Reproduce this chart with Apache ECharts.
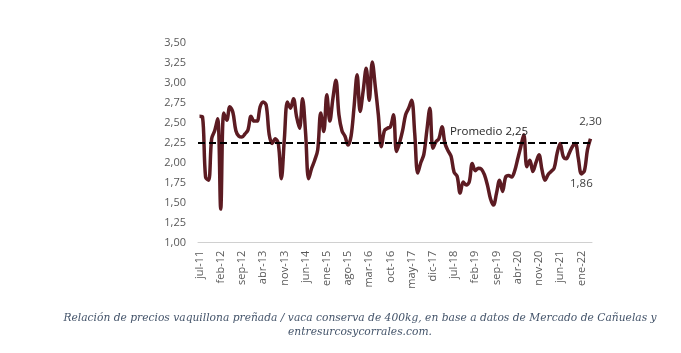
<!DOCTYPE html>
<html>
<head>
<meta charset="utf-8">
<script src="https://cdn.jsdelivr.net/npm/echarts@6/dist/echarts.min.js"></script>
<style>
html,body{margin:0;padding:0;background:#fff;}
#c{width:681px;height:353px;}
</style>
</head>
<body>
<div id="c"></div>
<script>
// Month names and range (jul-11 .. abr-22)
var monthNames = ['ene','feb','mar','abr','may','jun','jul','ago','sep','oct','nov','dic'];
var startYear = 2011, startMonth = 6, monthCount = 130;

// Ratio values, one per month
var ratio = [
 2.58,2.57,1.82,1.78,2.30,2.40,2.55,1.42,2.62,2.53,
 2.70,2.63,2.40,2.33,2.32,2.36,2.41,2.58,2.52,2.52,
 2.70,2.76,2.72,2.35,2.24,2.30,2.24,1.80,2.30,2.76,
 2.68,2.80,2.58,2.43,2.80,2.37,1.80,1.93,2.03,2.16,
 2.62,2.39,2.85,2.52,2.80,3.03,2.60,2.40,2.33,2.22,
 2.33,2.70,3.10,2.64,2.90,3.18,2.78,3.26,2.95,2.60,
 2.20,2.40,2.43,2.45,2.60,2.14,2.25,2.40,2.60,2.68,
 2.78,2.37,1.87,2.00,2.10,2.40,2.68,2.18,2.26,2.30,
 2.45,2.24,2.15,2.08,1.88,1.83,1.62,1.76,1.72,1.76,
 1.99,1.90,1.93,1.92,1.85,1.72,1.55,1.47,1.62,1.78,
 1.64,1.82,1.84,1.82,1.90,2.05,2.20,2.35,1.95,2.03,
 1.89,2.00,2.10,1.91,1.78,1.85,1.89,1.93,2.12,2.24,
 2.08,2.05,2.12,2.20,2.24,2.05,1.86,1.90,2.16,2.30
];
var average = 2.25;
var averageLabel = 'Promedio 2,25';
var captionLine1 = 'Relación de precios vaquillona preñada / vaca conserva de 400kg, en base a datos de Mercado de Cañuelas y';
var captionLine2 = 'entresurcosycorrales.com.';

var categories = [];
for (var i = 0; i < monthCount; i++) {
  var m = (startMonth + i) % 12;
  var y = startYear + Math.floor((startMonth + i) / 12);
  categories.push(monthNames[m] + '-' + String(y).slice(2));
}

function fmt(v){ return v.toFixed(2).replace('.', ','); }

var minIdx = 126, lastIdx = ratio.length - 1;

var chart = echarts.init(document.getElementById('c'), null, {renderer: 'canvas'});
chart.setOption({
  animation: false,
  backgroundColor: '#ffffff',
  graphic: [{
    type: 'text',
    x: 360,
    y: 311,
    silent: true,
    style: {
      text: captionLine1 + '\n' + captionLine2,
      align: 'center',
      verticalAlign: 'top',
      fontFamily: 'DejaVu Serif',
      fontStyle: 'italic',
      fontSize: 10.7,
      lineHeight: 14,
      fill: '#44546a'
    }
  }],
  grid: {left: 198, right: 89, top: 42.7, bottom: 110.3, containLabel: false},
  xAxis: {
    type: 'category',
    data: categories,
    boundaryGap: true,
    axisLine: {show: true, lineStyle: {color: '#d0d0d0', width: 1}},
    axisTick: {show: false},
    axisLabel: {
      interval: 6,
      rotate: 90,
      color: '#595959',
      fontFamily: 'Open Sans',
      fontSize: 11,
      margin: 8
    }
  },
  yAxis: {
    type: 'value',
    min: 1.0, max: 3.5, interval: 0.25,
    axisLine: {show: false},
    axisTick: {show: false},
    splitLine: {show: false},
    axisLabel: {
      color: '#595959',
      fontFamily: 'Open Sans',
      fontSize: 11,
      margin: 12,
      formatter: function(v){ return fmt(v); }
    }
  },
  series: [{
    type: 'line',
    data: ratio,
    smooth: 0.35,
    symbol: 'none',
    lineStyle: {color: '#5c1b22', width: 3.5},
    markLine: {
      silent: true,
      symbol: 'none',
      lineStyle: {color: '#000', type: [7, 4], width: 2.2},
      label: {
        show: true,
        position: 'insideMiddleTop',
        offset: [94, 0],
        formatter: averageLabel,
        color: '#262626',
        fontFamily: 'Open Sans',
        fontSize: 11.5
      },
      data: [{yAxis: average}]
    },
    markPoint: {
      silent: true,
      symbol: 'circle',
      symbolSize: 1,
      itemStyle: {color: 'rgba(0,0,0,0)'},
      label: {
        show: true,
        color: '#404040',
        fontFamily: 'Open Sans',
        fontSize: 11.5,
        formatter: function(p){ return fmt(p.value); }
      },
      data: [
        {coord: [lastIdx, ratio[lastIdx]], value: ratio[lastIdx], label: {position: 'top', distance: 10}},
        {coord: [minIdx, ratio[minIdx]], value: ratio[minIdx], label: {position: 'bottom', distance: 3}}
      ]
    },
    z: 3
  }]
});
</script>
</body>
</html>
